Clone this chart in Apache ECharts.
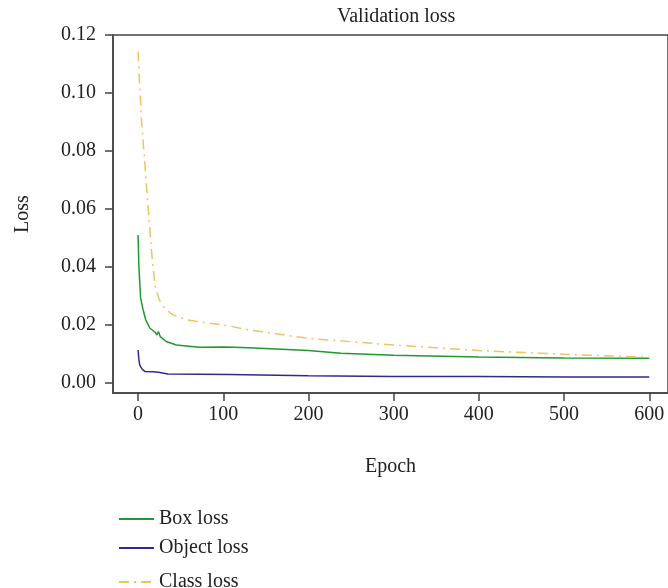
<!DOCTYPE html>
<html>
  <head>
    <meta charset="utf-8" />
    <title>Validation loss</title>
    <script src="https://cdn.jsdelivr.net/npm/echarts@6/dist/echarts.min.js"></script>
  </head>
  <body style="margin:0">
    <div id="main" style="width: 668px;height:588px;"></div>
    <script type="text/javascript">
        // 数据
        var xTicks = [0, 100, 200, 300, 400, 500, 600];
        var yTicks = [0, 0.02, 0.04, 0.06, 0.08, 0.10, 0.12];

        var boxEpochs = [0, 1, 3, 6, 9, 14, 20, 22, 24, 26, 33, 45, 72, 103, 130, 200, 238, 300, 400, 500, 600];
        var boxLoss = [0.0510, 0.0400, 0.0292, 0.0251, 0.0217, 0.0188, 0.0174, 0.0165, 0.0176, 0.0159, 0.0142, 0.0130, 0.0122, 0.0123, 0.0121, 0.0111, 0.0102, 0.0095, 0.0089, 0.0085, 0.0084];

        var objEpochs = [0, 1, 2, 5, 8, 18, 20, 24, 35, 72, 107, 200, 300, 400, 500, 600];
        var objLoss = [0.0113, 0.0080, 0.0061, 0.0046, 0.0039, 0.0038, 0.0040, 0.0036, 0.0030, 0.0029, 0.0028, 0.0024, 0.0021, 0.0021, 0.0020, 0.0020];

        var clsEpochs = [0, 4, 7, 10, 13, 16, 20, 25, 31, 41, 57, 84, 107, 126, 200, 300, 400, 500, 600];
        var clsLoss = [0.1143, 0.0907, 0.0792, 0.0677, 0.0562, 0.0447, 0.0332, 0.0286, 0.0257, 0.0234, 0.0217, 0.0205, 0.0196, 0.0184, 0.0153, 0.0130, 0.0111, 0.0098, 0.0088];

        function pairs(xs, ys) {
            return xs.map(function (x, i) { return [x, ys[i]]; });
        }

        var font = 'Liberation Serif';
        var axisColor = '#444';
        var txt = { fontFamily: font, fontSize: 20, color: '#222' };

        function legendAt(name, top) {
            return {
                data: [name], orient: 'vertical', left: 113, top: top,
                itemWidth: 35, itemHeight: 16, itemGap: 12,
                itemStyle: { opacity: 0 },
                textStyle: txt
            };
        }

        var myChart = echarts.init(document.getElementById('main'));

        var option = {
            animation: false,
            textStyle: { fontFamily: font, color: '#222' },
            title: {
                text: 'Validation loss',
                left: 332,
                top: 2,
                textStyle: { fontFamily: font, fontSize: 20, fontWeight: 'normal', color: '#222' }
            },
            legend: [
                legendAt('Box loss', 504),
                legendAt('Object loss', 533),
                legendAt('Class loss', 567)
            ],
            grid: {
                left: 113,
                right: -5,
                top: 35,
                bottom: 195,
                show: true,
                borderColor: axisColor,
                borderWidth: 1.5
            },
            xAxis: {
                type: 'value',
                min: -29.4,
                max: 622,
                name: 'Epoch',
                nameLocation: 'middle',
                nameGap: 64,
                nameTextStyle: txt,
                axisLine: { onZero: false, lineStyle: { color: axisColor, width: 1.5 } },
                axisTick: { customValues: xTicks, length: 8, lineStyle: { color: axisColor, width: 1.5 } },
                axisLabel: { customValues: xTicks, margin: 12, fontFamily: font, fontSize: 20, color: '#222' },
                splitLine: { show: false }
            },
            yAxis: {
                type: 'value',
                min: -0.00356,
                max: 0.12,
                name: 'Loss',
                nameLocation: 'middle',
                nameGap: 80,
                nameTextStyle: txt,
                axisLine: { show: true, onZero: false, lineStyle: { color: axisColor, width: 1.5 } },
                axisTick: { show: true, customValues: yTicks, length: 8, lineStyle: { color: axisColor, width: 1.5 } },
                axisLabel: {
                    customValues: yTicks, margin: 17, fontFamily: font, fontSize: 20, color: '#222',
                    formatter: function (v) { return v.toFixed(2); }
                },
                splitLine: { show: false }
            },
            series: [
                {
                    name: 'Box loss',
                    type: 'line',
                    showSymbol: false,
                    symbol: 'none',
                    color: '#1f9a2c',
                    lineStyle: { width: 1.5, color: '#1f9a2c' },
                    data: pairs(boxEpochs, boxLoss)
                },
                {
                    name: 'Object loss',
                    type: 'line',
                    showSymbol: false,
                    symbol: 'none',
                    color: '#2f2a8e',
                    lineStyle: { width: 1.5, color: '#2f2a8e' },
                    data: pairs(objEpochs, objLoss)
                },
                {
                    name: 'Class loss',
                    type: 'line',
                    showSymbol: false,
                    symbol: 'none',
                    color: '#f0c262',
                    lineStyle: { width: 1.5, color: '#f0c262', type: [10, 5, 2, 5] },
                    data: pairs(clsEpochs, clsLoss)
                }
            ]
        };

        myChart.setOption(option);
    </script>
  </body>
</html>
